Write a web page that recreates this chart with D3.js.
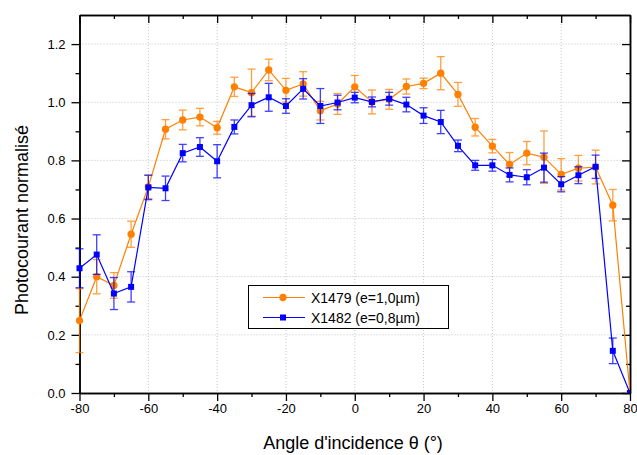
<!DOCTYPE html>
<html>
<head>
<meta charset="utf-8">
<script src="https://cdn.jsdelivr.net/npm/d3@7"></script>
<style>
  body { margin: 0; background: #fff; }
  svg { display: block; font-family: Arial, "Liberation Sans", sans-serif; }
</style>
</head>
<body>
<svg id="chart" width="637" height="455"></svg>
<script>
// ---- data ----
const angles = [-80,-75,-70,-65,-60,-55,-50,-45,-40,-35,-30,-25,-20,-15,-10,-5,0,5,10,15,20,25,30,35,40,45,50,55,60,65,70,75,80];
const x1479 = [0.249,0.400,0.370,0.546,0.709,0.907,0.939,0.949,0.912,1.053,1.033,1.111,1.041,1.063,0.971,0.994,1.053,1.001,1.010,1.054,1.065,1.100,1.027,0.914,0.849,0.786,0.825,0.811,0.752,0.773,0.777,0.646,0.0];
const x1479Err = [0.110,0.059,0.044,0.045,0.040,0.033,0.034,0.030,0.022,0.033,0.081,0.037,0.041,0.042,0.032,0.036,0.039,0.041,0.034,0.026,0.018,0.057,0.041,0.030,0.023,0.041,0.040,0.090,0.054,0.044,0.058,0.054,0.0];
const x1482 = [0.429,0.476,0.342,0.365,0.707,0.704,0.825,0.846,0.797,0.915,0.990,1.017,0.987,1.046,0.987,0.999,1.016,1.001,1.012,0.992,0.954,0.932,0.850,0.783,0.783,0.750,0.742,0.775,0.718,0.749,0.778,0.145,0.0];
const x1482Err = [0.067,0.068,0.055,0.052,0.042,0.042,0.030,0.032,0.057,0.024,0.040,0.048,0.025,0.035,0.060,0.025,0.018,0.017,0.022,0.025,0.027,0.040,0.020,0.017,0.020,0.024,0.026,0.050,0.026,0.029,0.040,0.044,0.0];
const xTicks = [-80,-60,-40,-20,0,20,40,60,80];
const xMinor = [-70,-50,-30,-10,10,30,50,70];
const yTicks = [0.0,0.2,0.4,0.6,0.8,1.0,1.2];
const yMinor = [0.1,0.3,0.5,0.7,0.9,1.1];
const seriesNames = ["X1479 (e=1,0\u00b5m)", "X1482 (e=0,8\u00b5m)"];
const xTitle = "Angle d'incidence \u03b8 (\u00b0)";
const yTitle = "Photocourant normalis\u00e9";

// ---- layout ----
const L = 79.5, R = 630, T = 15, B = 393;
const ORANGE = "#ff8000", BLUE = "#0000ff";

const svg = d3.select("#chart");
const x = d3.scaleLinear().domain([-80, 80]).range([L, R]);
const y = d3.scaleLinear().domain([0, 1.3]).range([B, T]);

// grid
const grid = svg.append("g").attr("stroke", "#c4c4c4").attr("stroke-width", 1).attr("stroke-dasharray", "1,2");
grid.selectAll("line.gx").data(xTicks.slice(1, -1)).join("line")
  .attr("x1", d => x(d)).attr("x2", d => x(d)).attr("y1", T).attr("y2", B);
grid.selectAll("line.gy").data(yTicks.slice(1)).join("line")
  .attr("x1", L).attr("x2", R).attr("y1", d => y(d)).attr("y2", d => y(d));

// axes
function styleAxis(g) {
  g.selectAll("path.domain").attr("stroke", "#000").attr("stroke-width", 1.5);
  g.selectAll(".tick line").attr("stroke", "#000").attr("stroke-width", 1.3);
  g.selectAll("text").attr("font-size", 13).attr("fill", "#000")
    .attr("font-family", "Arial, 'Liberation Sans', sans-serif");
}
const fmtY = d3.format(".1f");
svg.append("g").attr("transform", `translate(0,${B})`)
  .call(d3.axisBottom(x).tickValues(xTicks).tickSize(8).tickPadding(3).tickSizeOuter(0).tickFormat(d => String(d)))
  .call(styleAxis);
svg.append("g").attr("transform", `translate(0,${B})`)
  .call(d3.axisBottom(x).tickValues(xMinor).tickSize(4).tickSizeOuter(0).tickFormat(""))
  .call(styleAxis);
svg.append("g").attr("transform", `translate(${L},0)`)
  .call(d3.axisLeft(y).tickValues(yTicks).tickSize(8).tickPadding(6).tickSizeOuter(0).tickFormat(fmtY))
  .call(styleAxis);
svg.append("g").attr("transform", `translate(${L},0)`)
  .call(d3.axisLeft(y).tickValues(yMinor).tickSize(4).tickSizeOuter(0).tickFormat(""))
  .call(styleAxis);
svg.append("g").attr("transform", `translate(0,${T})`)
  .call(d3.axisTop(x).tickValues(xTicks).tickSize(-8).tickSizeOuter(0).tickFormat(""))
  .call(styleAxis);
svg.append("g").attr("transform", `translate(0,${T})`)
  .call(d3.axisTop(x).tickValues(xMinor).tickSize(-4).tickSizeOuter(0).tickFormat(""))
  .call(styleAxis);
svg.append("g").attr("transform", `translate(${R},0)`)
  .call(d3.axisRight(y).tickValues(yTicks).tickSize(-8).tickSizeOuter(0).tickFormat(""))
  .call(styleAxis);
svg.append("g").attr("transform", `translate(${R},0)`)
  .call(d3.axisRight(y).tickValues(yMinor).tickSize(-4).tickSizeOuter(0).tickFormat(""))
  .call(styleAxis);

// axis titles
svg.append("text").attr("x", 353).attr("y", 449).attr("text-anchor", "middle")
  .attr("font-size", 18).attr("fill", "#000").text(xTitle);
svg.append("text").attr("transform", "translate(28,220) rotate(-90)").attr("text-anchor", "middle")
  .attr("font-size", 18).attr("fill", "#000").text(yTitle);

// clip (right and bottom edges only)
svg.append("clipPath").attr("id", "plotclip").append("rect")
  .attr("x", 0).attr("y", 0).attr("width", R).attr("height", B);
const plot = svg.append("g").attr("clip-path", "url(#plotclip)");

function drawSeries(vals, errs, color, shape) {
  const pts = angles.map((a, i) => ({ a, v: vals[i], e: errs[i] }));
  const g = plot.append("g");
  // error bars
  const eb = g.append("g").attr("stroke", color).attr("stroke-width", 1.3).attr("opacity", 0.75);
  const withErr = pts.filter(p => p.e > 0);
  eb.selectAll("line.v").data(withErr).join("line")
    .attr("x1", p => x(p.a)).attr("x2", p => x(p.a))
    .attr("y1", p => y(p.v - p.e)).attr("y2", p => y(p.v + p.e));
  eb.selectAll("line.t").data(withErr).join("line")
    .attr("x1", p => x(p.a) - 4).attr("x2", p => x(p.a) + 4)
    .attr("y1", p => y(p.v + p.e)).attr("y2", p => y(p.v + p.e));
  eb.selectAll("line.b").data(withErr).join("line")
    .attr("x1", p => x(p.a) - 4).attr("x2", p => x(p.a) + 4)
    .attr("y1", p => y(p.v - p.e)).attr("y2", p => y(p.v - p.e));
  // line
  g.append("path").datum(pts)
    .attr("fill", "none").attr("stroke", color).attr("stroke-width", 1.2)
    .attr("d", d3.line().x(p => x(p.a)).y(p => y(p.v)));
  // markers
  const sym = d3.symbol().type(shape === "circle" ? d3.symbolCircle : d3.symbolSquare)
    .size(shape === "circle" ? 42 : 36);
  g.selectAll("path.m").data(pts).join("path")
    .attr("transform", p => `translate(${x(p.a)},${y(p.v)})`)
    .attr("d", sym).attr("fill", color);
}
drawSeries(x1479, x1479Err, ORANGE, "circle");
drawSeries(x1482, x1482Err, BLUE, "square");

// legend
const lg = svg.append("g");
lg.append("rect").attr("x", 248.5).attr("y", 285.5).attr("width", 200).attr("height", 43)
  .attr("fill", "#fff").attr("stroke", "#000").attr("stroke-width", 1);
const legendItems = [
  { name: seriesNames[0], color: ORANGE, shape: d3.symbolCircle, size: 42 },
  { name: seriesNames[1], color: BLUE, shape: d3.symbolSquare, size: 36 }
];
legendItems.forEach((it, i) => {
  const yy = 297.5 + i * 20;
  lg.append("line").attr("x1", 263).attr("x2", 305).attr("y1", yy).attr("y2", yy)
    .attr("stroke", it.color).attr("stroke-width", 1.2);
  lg.append("path").attr("transform", `translate(283,${yy})`)
    .attr("d", d3.symbol().type(it.shape).size(it.size)).attr("fill", it.color);
  lg.append("text").attr("x", 311).attr("y", yy + 5).attr("font-size", 14).attr("fill", "#000").text(it.name);
});
</script>
</body>
</html>
